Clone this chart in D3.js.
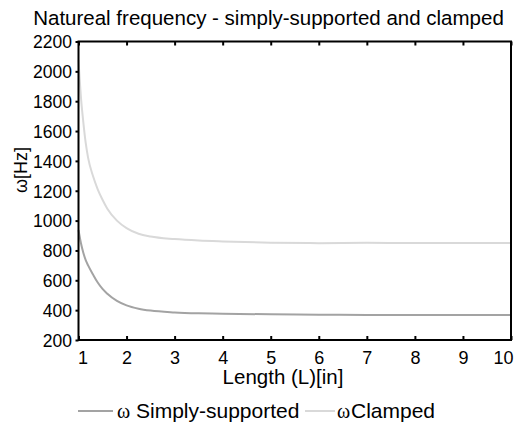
<!DOCTYPE html>
<html><head>
<meta charset="utf-8">
<title>Natural frequency</title>
<style>
body { margin: 0; background: #fff; }
svg text { font-family: "Liberation Sans", Arial, sans-serif; fill: #000; }
</style>
<script src="https://cdnjs.cloudflare.com/ajax/libs/d3/7.8.5/d3.min.js"></script>
</head>
<body>
<svg id="chart" width="519" height="424"></svg>
<script>
// Data
const lengths = [1, 1.05, 1.1, 1.15, 1.2, 1.3, 1.4, 1.5, 1.6, 1.8, 2, 2.25, 2.5, 3, 3.5, 4, 5, 6, 7, 8, 9, 10];
const clamped = [2076, 1830, 1660, 1520, 1420, 1300, 1210, 1140, 1080, 1000, 950, 912, 893, 876, 866, 860, 852, 849, 851, 850, 850, 850];
const simply = [937, 850, 785, 735, 700, 640, 585, 542, 510, 462, 432, 410, 397, 385, 379, 376, 372, 370, 368, 368, 367, 367];
const xTicks = [1, 2, 3, 4, 5, 6, 7, 8, 9, 10];
const yTicks = [200, 400, 600, 800, 1000, 1200, 1400, 1600, 1800, 2000, 2200];

const svg = d3.select("#chart");
const m = { left: 78.5, right: 511, top: 41.5, bottom: 340 };

const x = d3.scaleLinear().domain([1, 10]).range([m.left, m.right]);
const y = d3.scaleLinear().domain([200, 2200]).range([m.bottom, m.top]);

// title
svg.append("text")
  .attr("x", 268.5).attr("y", 25)
  .attr("text-anchor", "middle")
  .style("font-size", "20.5px")
  .text("Natureal frequency - simply-supported and clamped");

// lines
const line = d3.line()
  .x((d, i) => x(lengths[i]))
  .y(d => y(d))
  .curve(d3.curveMonotoneX);

svg.append("path").datum(clamped)
  .attr("d", line).attr("fill", "none")
  .attr("stroke", "#d9d9d9").attr("stroke-width", 2);

svg.append("path").datum(simply)
  .attr("d", line).attr("fill", "none")
  .attr("stroke", "#a3a3a3").attr("stroke-width", 2);

// y axis (ticks outside)
const yAxis = svg.append("g")
  .attr("transform", `translate(${m.left},0)`)
  .call(d3.axisLeft(y).tickValues(yTicks).tickFormat(d3.format("d"))
    .tickSize(3).tickPadding(3.5).tickSizeOuter(0));
yAxis.select(".domain").remove();
yAxis.selectAll("line").attr("stroke-width", 2);
yAxis.selectAll("text").style("font-size", "17.5px").attr("dy", "0.36em");

// x axis (ticks inside)
const xAxis = svg.append("g")
  .attr("transform", `translate(0,${m.bottom})`)
  .call(d3.axisBottom(x).tickValues(xTicks).tickSize(-4).tickPadding(11.5).tickSizeOuter(0));
xAxis.select(".domain").remove();
xAxis.selectAll("line").attr("stroke-width", 2);
xAxis.selectAll("text").style("font-size", "18px");
// first and last labels sit inside the frame like the original
xAxis.selectAll("text").filter(d => d === 1).attr("text-anchor", "start").attr("dx", -1);
xAxis.selectAll("text").filter(d => d === 10).attr("text-anchor", "end").attr("dx", 2);

// top mirror ticks
const topAxis = svg.append("g")
  .attr("transform", `translate(0,${m.top})`)
  .call(d3.axisTop(x).tickValues(xTicks).tickSize(-4).tickFormat("").tickSizeOuter(0));
topAxis.select(".domain").remove();
topAxis.selectAll("line").attr("stroke-width", 2);

// frame
svg.append("rect")
  .attr("x", m.left).attr("y", m.top)
  .attr("width", m.right - m.left).attr("height", m.bottom - m.top)
  .attr("fill", "none").attr("stroke", "#000").attr("stroke-width", 2);

// axis titles
svg.append("text")
  .attr("x", 283).attr("y", 383.5)
  .attr("text-anchor", "middle")
  .style("font-size", "20.5px")
  .text("Length (L)[in]");

svg.append("text")
  .attr("transform", "translate(27,170) rotate(-90)")
  .attr("text-anchor", "middle")
  .style("font-size", "18px")
  .text("ω[Hz]");

// legend
const legend = [
  { label: "Simply-supported", color: "#a3a3a3", x: 78, w: 35, sym: 117, txt: 136 },
  { label: "Clamped", color: "#d9d9d9", x: 305, w: 30, sym: 337, txt: 351 }
];
const lg = svg.append("g").attr("transform", "translate(0,418)");
legend.forEach(d => {
  lg.append("line")
    .attr("x1", d.x).attr("x2", d.x + d.w)
    .attr("y1", -7).attr("y2", -7)
    .attr("stroke", d.color).attr("stroke-width", 2);
  lg.append("text").attr("x", d.sym).attr("y", 0)
    .style("font-family", "'Liberation Serif', 'Times New Roman', serif")
    .style("font-size", "20px").text("ω");
  lg.append("text").attr("x", d.txt).attr("y", 0)
    .style("font-size", "21px").text(d.label);
});
</script>
</body>
</html>
